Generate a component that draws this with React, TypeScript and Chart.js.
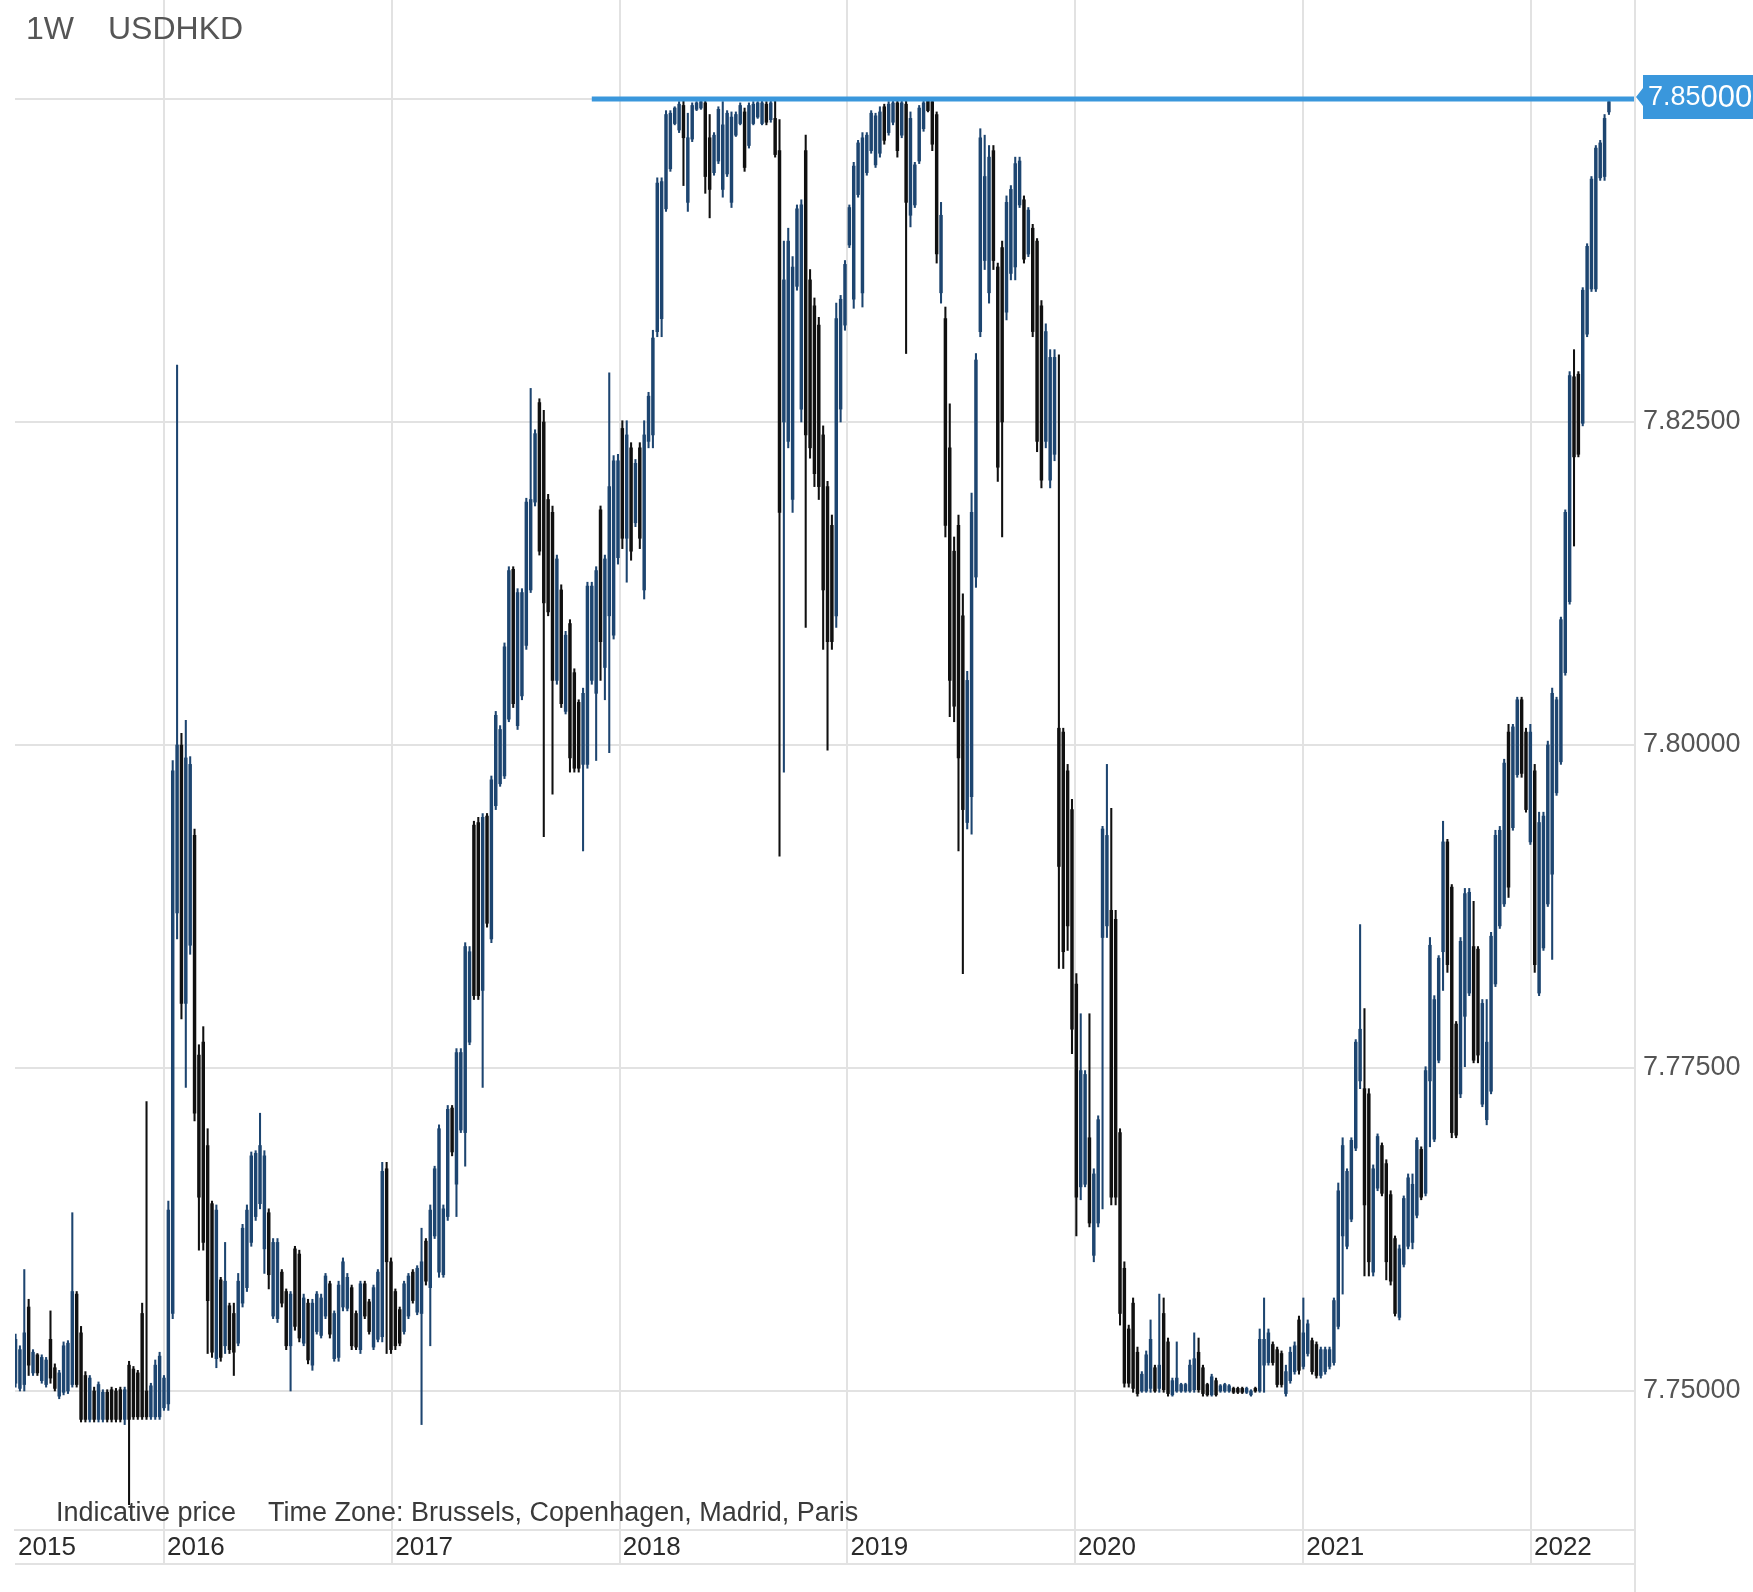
import React, { useEffect, useRef } from 'react';
import { Chart, registerables } from 'chart.js';

Chart.register(...registerables);

// ---------------- DATA ----------------
// Weekly USDHKD candles, first week 2015-05-08, one candle per week
const firstWeek = { y: 2015, m: 4, d: 8 };

const highs = [
  7.7544, 7.7535, 7.7594, 7.7571, 7.7532, 7.7529, 7.7528, 7.7526, 7.7562, 7.7521, // w0
  7.7516, 7.7538, 7.7539, 7.7638, 7.7577, 7.7550, 7.7515, 7.7512, 7.7503, 7.7507, // w10
  7.7501, 7.7501, 7.7503, 7.7502, 7.7503, 7.7503, 7.7523, 7.7519, 7.7516, 7.7568, // w20
  7.7724, 7.7506, 7.7524, 7.7530, 7.7512, 7.7647, 7.7988, 7.8294, 7.8009, 7.8019, // w30
  7.7991, 7.7935, 7.7768, 7.7782, 7.7703, 7.7647, 7.7644, 7.7588, 7.7615, 7.7568, // w40
  7.7568, 7.7591, 7.7629, 7.7644, 7.7685, 7.7686, 7.7715, 7.7686, 7.7641, 7.7618, // w50
  7.7618, 7.7594, 7.7579, 7.7577, 7.7612, 7.7609, 7.7575, 7.7571, 7.7571, 7.7577, // w60
  7.7575, 7.7591, 7.7585, 7.7562, 7.7585, 7.7603, 7.7591, 7.7582, 7.7562, 7.7585, // w70
  7.7585, 7.7571, 7.7582, 7.7594, 7.7677, 7.7677, 7.7603, 7.7579, 7.7565, 7.7585, // w80
  7.7591, 7.7594, 7.7597, 7.7626, 7.7618, 7.7644, 7.7674, 7.7706, 7.7644, 7.7721, // w90
  7.7721, 7.7765, 7.7765, 7.7847, 7.7844, 7.7941, 7.7944, 7.7947, 7.7947, 7.7976, // w100
  7.8026, 7.8015, 7.8079, 7.8138, 7.8138, 7.8121, 7.8121, 7.8191, 7.8276, 7.8244, // w110
  7.8268, 7.8259, 7.8194, 7.8185, 7.8147, 7.8124, 7.8088, 7.8097, 7.8059, 7.8035, // w120
  7.8044, 7.8126, 7.8126, 7.8138, 7.8185, 7.8147, 7.8288, 7.8224, 7.8225, 7.8251, // w130
  7.8251, 7.8234, 7.8221, 7.8234, 7.8251, 7.8273, 7.8321, 7.8439, 7.8439, 7.8491, // w140
  7.8491, 7.8494, 7.8498, 7.8499, 7.8489, 7.8497, 7.8498, 7.8499, 7.8499, 7.8488, // w150
  7.8474, 7.8494, 7.8498, 7.8491, 7.8490, 7.8490, 7.8497, 7.8493, 7.8497, 7.8498, // w160
  7.8498, 7.8499, 7.8498, 7.8499, 7.8499, 7.8484, 7.8390, 7.8400, 7.8378, 7.8418, // w170
  7.8422, 7.8472, 7.8368, 7.8346, 7.8331, 7.8247, 7.8204, 7.8178, 7.8342, 7.8348, // w180
  7.8375, 7.8418, 7.8451, 7.8468, 7.8474, 7.8474, 7.8491, 7.8489, 7.8494, 7.8496, // w190
  7.8498, 7.8499, 7.8499, 7.8499, 7.8499, 7.8490, 7.8451, 7.8495, 7.8499, 7.8500, // w200
  7.8500, 7.8490, 7.8420, 7.8339, 7.8264, 7.8161, 7.8178, 7.8117, 7.8057, 7.8195, // w210
  7.8303, 7.8477, 7.8472, 7.8464, 7.8464, 7.8373, 7.8390, 7.8425, 7.8433, 7.8455, // w220
  7.8455, 7.8425, 7.8416, 7.8403, 7.8392, 7.8344, 7.8326, 7.8306, 7.8306, 7.8302, // w230
  7.8013, 7.7985, 7.7958, 7.7823, 7.7792, 7.7748, 7.7792, 7.7672, 7.7713, 7.7937, // w240
  7.7985, 7.7951, 7.7872, 7.7703, 7.7600, 7.7551, 7.7572, 7.7534, 7.7515, 7.7531, // w250
  7.7555, 7.7520, 7.7575, 7.7572, 7.7541, 7.7510, 7.7538, 7.7506, 7.7506, 7.7524, // w260
  7.7545, 7.7541, 7.7520, 7.7506, 7.7513, 7.7510, 7.7505, 7.7506, 7.7505, 7.7503, // w270
  7.7503, 7.7503, 7.7503, 7.7501, 7.7503, 7.7548, 7.7572, 7.7548, 7.7538, 7.7534, // w280
  7.7531, 7.7520, 7.7534, 7.7538, 7.7558, 7.7572, 7.7555, 7.7541, 7.7538, 7.7534, // w290
  7.7534, 7.7534, 7.7572, 7.7661, 7.7696, 7.7672, 7.7696, 7.7772, 7.7861, 7.7796, // w300
  7.7734, 7.7675, 7.7699, 7.7692, 7.7679, 7.7655, 7.7620, 7.7613, 7.7651, 7.7668, // w310
  7.7668, 7.7696, 7.7689, 7.7751, 7.7851, 7.7806, 7.7837, 7.7941, 7.7927, 7.7892, // w320
  7.7786, 7.7851, 7.7889, 7.7889, 7.7879, 7.7844, 7.7803, 7.7803, 7.7855, 7.7934, // w330
  7.7937, 7.7989, 7.8016, 7.8016, 7.8037, 7.8037, 7.8013, 7.8016, 7.7985, 7.7948, // w340
  7.7948, 7.8003, 7.8044, 7.8037, 7.8099, 7.8182, 7.8289, 7.8306, 7.8289, 7.8354, // w350
  7.8388, 7.8440, 7.8464, 7.8468, 7.8488, 7.8500, // w360
];

const lows = [
  7.7503, 7.7500, 7.7500, 7.7512, 7.7512, 7.7512, 7.7506, 7.7503, 7.7506, 7.7500,
  7.7494, 7.7497, 7.7498, 7.7503, 7.7503, 7.7476, 7.7476, 7.7476, 7.7476, 7.7476,
  7.7476, 7.7476, 7.7476, 7.7476, 7.7476, 7.7474, 7.7412, 7.7478, 7.7478, 7.7478,
  7.7478, 7.7478, 7.7478, 7.7478, 7.7485, 7.7485, 7.7556, 7.7850, 7.7788, 7.7735,
  7.7838, 7.7709, 7.7609, 7.7609, 7.7529, 7.7526, 7.7518, 7.7523, 7.7529, 7.7529,
  7.7512, 7.7535, 7.7565, 7.7577, 7.7612, 7.7632, 7.7641, 7.7591, 7.7579, 7.7556,
  7.7553, 7.7565, 7.7532, 7.7500, 7.7547, 7.7538, 7.7535, 7.7521, 7.7516, 7.7544,
  7.7541, 7.7556, 7.7541, 7.7523, 7.7523, 7.7562, 7.7562, 7.7532, 7.7532, 7.7529,
  7.7556, 7.7544, 7.7532, 7.7538, 7.7538, 7.7529, 7.7529, 7.7532, 7.7535, 7.7544,
  7.7556, 7.7568, 7.7559, 7.7474, 7.7582, 7.7535, 7.7618, 7.7588, 7.7588, 7.7632,
  7.7682, 7.7635, 7.7700, 7.7674, 7.7768, 7.7803, 7.7803, 7.7735, 7.7859, 7.7847,
  7.7950, 7.7968, 7.7974, 7.8018, 7.8029, 7.8012, 7.8035, 7.8074, 7.8118, 7.8185,
  7.8147, 7.7929, 7.8100, 7.7962, 7.8047, 7.8029, 7.8024, 7.7979, 7.7979, 7.7979,
  7.7918, 7.7982, 7.8047, 7.7988, 7.8050, 7.8035, 7.7994, 7.8082, 7.8140, 7.8152,
  7.8126, 7.8143, 7.8169, 7.8152, 7.8113, 7.8230, 7.8230, 7.8316, 7.8316, 7.8413,
  7.8444, 7.8480, 7.8474, 7.8433, 7.8413, 7.8467, 7.8491, 7.8492, 7.8427, 7.8408,
  7.8441, 7.8450, 7.8424, 7.8440, 7.8416, 7.8471, 7.8480, 7.8444, 7.8462, 7.8480,
  7.8485, 7.8480, 7.8480, 7.8482, 7.8455, 7.7914, 7.7979, 7.8230, 7.8180, 7.8352,
  7.8250, 7.8091, 7.8222, 7.8200, 7.8190, 7.8074, 7.7996, 7.8074, 7.8091, 7.8250,
  7.8321, 7.8385, 7.8338, 7.8424, 7.8339, 7.8441, 7.8458, 7.8447, 7.8455, 7.8465,
  7.8472, 7.8480, 7.8455, 7.8470, 7.8303, 7.8401, 7.8416, 7.8450, 7.8475, 7.8490,
  7.8460, 7.8373, 7.8342, 7.8161, 7.8022, 7.8018, 7.7918, 7.7823, 7.7935, 7.7931,
  7.8122, 7.8316, 7.8368, 7.8342, 7.8368, 7.8204, 7.8161, 7.8329, 7.8360, 7.8360,
  7.8416, 7.8373, 7.8378, 7.8316, 7.8227, 7.8199, 7.8230, 7.8199, 7.8220, 7.7827,
  7.7827, 7.7841, 7.7761, 7.7620, 7.7648, 7.7658, 7.7627, 7.7600, 7.7627, 7.7641,
  7.7851, 7.7644, 7.7644, 7.7551, 7.7503, 7.7503, 7.7499, 7.7496, 7.7499, 7.7499,
  7.7499, 7.7499, 7.7499, 7.7499, 7.7496, 7.7496, 7.7499, 7.7499, 7.7499, 7.7499,
  7.7499, 7.7499, 7.7496, 7.7496, 7.7496, 7.7496, 7.7499, 7.7499, 7.7499, 7.7498,
  7.7498, 7.7498, 7.7498, 7.7496, 7.7499, 7.7499, 7.7499, 7.7520, 7.7520, 7.7503,
  7.7503, 7.7496, 7.7506, 7.7513, 7.7513, 7.7517, 7.7527, 7.7513, 7.7510, 7.7510,
  7.7513, 7.7517, 7.7520, 7.7548, 7.7575, 7.7610, 7.7631, 7.7686, 7.7734, 7.7589,
  7.7589, 7.7589, 7.7655, 7.7651, 7.7586, 7.7582, 7.7558, 7.7555, 7.7596, 7.7610,
  7.7610, 7.7634, 7.7648, 7.7651, 7.7689, 7.7693, 7.7754, 7.7810, 7.7824, 7.7696,
  7.7696, 7.7727, 7.7751, 7.7806, 7.7754, 7.7754, 7.7720, 7.7706, 7.7730, 7.7813,
  7.7858, 7.7875, 7.7882, 7.7934, 7.7975, 7.7975, 7.7948, 7.7923, 7.7824, 7.7806,
  7.7841, 7.7875, 7.7834, 7.7961, 7.7985, 7.8054, 7.8109, 7.8154, 7.8223, 7.8247,
  7.8316, 7.8351, 7.8351, 7.8437, 7.8437, 7.8488,
];

const opens = [
  7.7506, 7.7502, 7.7505, 7.7565, 7.7514, 7.7528, 7.7508, 7.7505, 7.7540, 7.7518,
  7.7496, 7.7499, 7.7500, 7.7505, 7.7575, 7.7545, 7.7512, 7.7478, 7.7500, 7.7478,
  7.7478, 7.7499, 7.7501, 7.7500, 7.7501, 7.7478, 7.7520, 7.7517, 7.7514, 7.7560,
  7.7500, 7.7480, 7.7480, 7.7480, 7.7487, 7.7490, 7.7560, 7.7870, 7.8000, 7.7800,
  7.7845, 7.7930, 7.7760, 7.7770, 7.7690, 7.7645, 7.7525, 7.7586, 7.7535, 7.7566,
  7.7560, 7.7537, 7.7568, 7.7580, 7.7615, 7.7635, 7.7645, 7.7610, 7.7638, 7.7558,
  7.7556, 7.7592, 7.7577, 7.7535, 7.7610, 7.7606, 7.7537, 7.7568, 7.7520, 7.7546,
  7.7543, 7.7558, 7.7583, 7.7525, 7.7526, 7.7565, 7.7564, 7.7580, 7.7560, 7.7532,
  7.7583, 7.7569, 7.7534, 7.7540, 7.7542, 7.7672, 7.7600, 7.7577, 7.7563, 7.7546,
  7.7558, 7.7592, 7.7561, 7.7560, 7.7616, 7.7580, 7.7620, 7.7592, 7.7590, 7.7635,
  7.7719, 7.7660, 7.7702, 7.7700, 7.7770, 7.7938, 7.7940, 7.7810, 7.7945, 7.7850,
  7.7953, 7.7970, 7.7976, 7.8020, 7.8136, 7.8015, 7.8038, 7.8077, 7.8120, 7.8188,
  7.8265, 7.8250, 7.8190, 7.8180, 7.8050, 7.8120, 7.8026, 7.8094, 7.8056, 7.8033,
  7.7985, 7.7985, 7.8050, 7.8040, 7.8182, 7.8060, 7.8100, 7.8085, 7.8145, 7.8245,
  7.8160, 7.8230, 7.8172, 7.8230, 7.8120, 7.8235, 7.8240, 7.8320, 7.8330, 7.8415,
  7.8446, 7.8481, 7.8476, 7.8495, 7.8420, 7.8469, 7.8492, 7.8493, 7.8497, 7.8470,
  7.8443, 7.8452, 7.8430, 7.8442, 7.8420, 7.8472, 7.8481, 7.8490, 7.8464, 7.8481,
  7.8486, 7.8481, 7.8496, 7.8484, 7.8485, 7.8460, 7.8250, 7.8235, 7.8190, 7.8355,
  7.8260, 7.8460, 7.8360, 7.8340, 7.8325, 7.8240, 7.8200, 7.8170, 7.8100, 7.8260,
  7.8325, 7.8387, 7.8345, 7.8426, 7.8350, 7.8443, 7.8460, 7.8449, 7.8458, 7.8494,
  7.8474, 7.8482, 7.8497, 7.8472, 7.8496, 7.8410, 7.8418, 7.8452, 7.8477, 7.8499,
  7.8498, 7.8488, 7.8350, 7.8330, 7.8230, 7.8150, 7.8170, 7.8100, 7.7940, 7.7960,
  7.8130, 7.8320, 7.8375, 7.8350, 7.8460, 7.8370, 7.8385, 7.8335, 7.8365, 7.8370,
  7.8418, 7.8422, 7.8380, 7.8400, 7.8390, 7.8340, 7.8235, 7.8205, 7.8225, 7.8013,
  7.8010, 7.7980, 7.7950, 7.7815, 7.7658, 7.7660, 7.7696, 7.7605, 7.7630, 7.7851,
  7.7860, 7.7872, 7.7865, 7.7700, 7.7595, 7.7548, 7.7568, 7.7530, 7.7500, 7.7500,
  7.7502, 7.7518, 7.7502, 7.7560, 7.7538, 7.7497, 7.7500, 7.7500, 7.7500, 7.7500,
  7.7501, 7.7530, 7.7518, 7.7505, 7.7497, 7.7508, 7.7500, 7.7500, 7.7500, 7.7502,
  7.7502, 7.7502, 7.7499, 7.7497, 7.7502, 7.7500, 7.7520, 7.7522, 7.7536, 7.7532,
  7.7529, 7.7498, 7.7508, 7.7515, 7.7555, 7.7519, 7.7529, 7.7539, 7.7536, 7.7512,
  7.7515, 7.7519, 7.7522, 7.7550, 7.7620, 7.7612, 7.7633, 7.7688, 7.7740, 7.7734,
  7.7730, 7.7592, 7.7657, 7.7690, 7.7676, 7.7652, 7.7618, 7.7557, 7.7598, 7.7612,
  7.7615, 7.7636, 7.7687, 7.7653, 7.7740, 7.7695, 7.7756, 7.7840, 7.7925, 7.7890,
  7.7784, 7.7730, 7.7790, 7.7808, 7.7844, 7.7842, 7.7722, 7.7710, 7.7732, 7.7815,
  7.7860, 7.7877, 7.8010, 7.7936, 7.7977, 7.8035, 7.8010, 7.7925, 7.7980, 7.7808,
  7.7843, 7.7877, 7.7900, 7.7963, 7.7987, 7.8056, 7.8111, 7.8285, 7.8287, 7.8249,
  7.8318, 7.8353, 7.8353, 7.8439, 7.8440, 7.8490,
];

const closes = [
  7.7540, 7.7532, 7.7545, 7.7520, 7.7530, 7.7514, 7.7526, 7.7524, 7.7510, 7.7502,
  7.7514, 7.7535, 7.7537, 7.7577, 7.7505, 7.7478, 7.7478, 7.7510, 7.7478, 7.7505,
  7.7499, 7.7478, 7.7478, 7.7478, 7.7478, 7.7501, 7.7478, 7.7480, 7.7480, 7.7480,
  7.7480, 7.7504, 7.7520, 7.7527, 7.7510, 7.7640, 7.7980, 7.8000, 7.7800, 7.7990,
  7.7985, 7.7715, 7.7650, 7.7615, 7.7570, 7.7530, 7.7640, 7.7526, 7.7585, 7.7532,
  7.7530, 7.7585, 7.7626, 7.7640, 7.7682, 7.7684, 7.7690, 7.7682, 7.7590, 7.7615,
  7.7615, 7.7568, 7.7535, 7.7575, 7.7550, 7.7541, 7.7572, 7.7524, 7.7568, 7.7575,
  7.7572, 7.7589, 7.7544, 7.7560, 7.7582, 7.7600, 7.7588, 7.7535, 7.7534, 7.7583,
  7.7558, 7.7546, 7.7580, 7.7592, 7.7670, 7.7600, 7.7532, 7.7535, 7.7537, 7.7583,
  7.7589, 7.7570, 7.7595, 7.7600, 7.7585, 7.7640, 7.7672, 7.7703, 7.7641, 7.7718,
  7.7685, 7.7762, 7.7762, 7.7844, 7.7840, 7.7806, 7.7806, 7.7944, 7.7862, 7.7973,
  7.8023, 7.8012, 7.8076, 7.8135, 7.8032, 7.8118, 7.8118, 7.8188, 7.8190, 7.8241,
  7.8150, 7.8110, 7.8103, 7.8050, 7.8144, 7.8032, 7.8085, 7.7990, 7.7982, 7.7982,
  7.8040, 7.8123, 7.8123, 7.8135, 7.8080, 7.8144, 7.8200, 7.8220, 7.8220, 7.8160,
  7.8240, 7.8150, 7.8218, 7.8160, 7.8240, 7.8270, 7.8315, 7.8435, 7.8436, 7.8488,
  7.8489, 7.8493, 7.8496, 7.8470, 7.8470, 7.8495, 7.8497, 7.8498, 7.8440, 7.8430,
  7.8472, 7.8492, 7.8480, 7.8489, 7.8486, 7.8488, 7.8495, 7.8447, 7.8495, 7.8496,
  7.8497, 7.8497, 7.8482, 7.8497, 7.8457, 7.8180, 7.8360, 7.8390, 7.8370, 7.8415,
  7.8418, 7.8240, 7.8230, 7.8210, 7.8200, 7.8120, 7.8080, 7.8080, 7.8330, 7.8345,
  7.8372, 7.8416, 7.8448, 7.8466, 7.8470, 7.8472, 7.8489, 7.8487, 7.8490, 7.8468,
  7.8496, 7.8497, 7.8460, 7.8497, 7.8420, 7.8485, 7.8449, 7.8493, 7.8497, 7.8491,
  7.8465, 7.8380, 7.8410, 7.8170, 7.8050, 7.8030, 7.7990, 7.7950, 7.8050, 7.8180,
  7.8298, 7.8470, 7.8440, 7.8455, 7.8375, 7.8215, 7.8250, 7.8420, 7.8430, 7.8450,
  7.8452, 7.8376, 7.8414, 7.8320, 7.8235, 7.8205, 7.8320, 7.8300, 7.8300, 7.7906,
  7.7840, 7.7860, 7.7780, 7.7650, 7.7748, 7.7745, 7.7630, 7.7668, 7.7710, 7.7935,
  7.7930, 7.7650, 7.7650, 7.7560, 7.7506, 7.7506, 7.7502, 7.7498, 7.7513, 7.7528,
  7.7540, 7.7500, 7.7520, 7.7501, 7.7498, 7.7508, 7.7510, 7.7505, 7.7505, 7.7520,
  7.7525, 7.7501, 7.7498, 7.7497, 7.7511, 7.7497, 7.7504, 7.7505, 7.7504, 7.7499,
  7.7499, 7.7499, 7.7502, 7.7500, 7.7500, 7.7540, 7.7540, 7.7545, 7.7522, 7.7505,
  7.7505, 7.7515, 7.7530, 7.7535, 7.7516, 7.7545, 7.7552, 7.7515, 7.7512, 7.7532,
  7.7532, 7.7532, 7.7570, 7.7655, 7.7690, 7.7670, 7.7694, 7.7770, 7.7780, 7.7644,
  7.7600, 7.7672, 7.7697, 7.7653, 7.7600, 7.7585, 7.7560, 7.7610, 7.7649, 7.7665,
  7.7660, 7.7694, 7.7650, 7.7748, 7.7845, 7.7803, 7.7835, 7.7925, 7.7830, 7.7700,
  7.7698, 7.7848, 7.7885, 7.7886, 7.7756, 7.7760, 7.7800, 7.7770, 7.7852, 7.7930,
  7.7934, 7.7986, 7.7890, 7.8014, 7.8035, 7.7978, 7.7950, 7.8010, 7.7830, 7.7940,
  7.7945, 7.8000, 7.8040, 7.8035, 7.8097, 7.8180, 7.8286, 7.8223, 7.8225, 7.8352,
  7.8386, 7.8438, 7.8462, 7.8466, 7.8485, 7.8498,
];

const xTickLabels = ['2015', '2016', '2017', '2018', '2019', '2020', '2021', '2022'];
const yTickValues = [7.75, 7.775, 7.8, 7.825, 7.85];
const levelValue = 7.85;
const levelLabelMain = '7.85';
const levelLabelPips = '000';
const titleInterval = '1W';
const titleSymbol = 'USDHKD';
const footNote1 = 'Indicative price';
const footNote2 = 'Time Zone: Brussels, Copenhagen, Madrid, Paris';

// ---------------- helpers ----------------
const DAY_MS = 86400000;
const EPOCH = Date.UTC(2015, 0, 1);
const toDay = (t: number) => (t - EPOCH) / DAY_MS;
const weekDays = highs.map((_, i) => toDay(Date.UTC(firstWeek.y, firstWeek.m, firstWeek.d + 7 * i)));
const yearDays = xTickLabels.slice(1).map((y) => toDay(Date.UTC(Number(y), 0, 1)));
const levelStartDay = toDay(Date.UTC(2017, 10, 17));

const X_MIN = 126.1;
const X_MAX = 2723.8;
const Y_MIN = 7.739241;
const Y_MAX = 7.857663;

const FONT = "'Liberation Sans', Arial, Helvetica, sans-serif";
const GRID = '#e2e2e2';
const UP = '#1d4570';
const DOWN = '#101010';
const LEVEL_BLUE = '#3a97dc';

export default function App() {
  const ref = useRef<HTMLCanvasElement | null>(null);

  useEffect(() => {
    if (!ref.current) return;
    const colors = highs.map((_, i) => (closes[i] >= opens[i] ? UP : DOWN));
    const wickData = highs.map((h, i) => ({ x: weekDays[i], y: [lows[i], h] }));
    const bodyData = highs.map((_, i) => ({ x: weekDays[i], y: [opens[i], closes[i]] }));

    const decor = {
      id: 'decor',
      afterDraw(chart: any) {
        const ctx = chart.ctx as CanvasRenderingContext2D;
        const xs = chart.scales.x;
        const ys = chart.scales.y;
        const area = chart.chartArea;
        ctx.save();
        // lower border of date strip and right border
        ctx.strokeStyle = GRID;
        ctx.lineWidth = 2;
        ctx.beginPath();
        ctx.moveTo(area.left, area.bottom + 34);
        ctx.lineTo(area.right, area.bottom + 34);
        ctx.moveTo(area.right, 0);
        ctx.lineTo(area.right, chart.height);
        ctx.stroke();

        // year labels
        ctx.fillStyle = '#2a2a2a';
        ctx.font = `26px ${FONT}`;
        ctx.textAlign = 'left';
        ctx.textBaseline = 'middle';
        ctx.fillText(xTickLabels[0], area.left + 3, area.bottom + 18);
        yearDays.forEach((d, i) => {
          ctx.fillText(xTickLabels[i + 1], xs.getPixelForValue(d) + 3, area.bottom + 18);
        });

        // footnote
        ctx.fillStyle = '#3a3a3a';
        ctx.font = `27px ${FONT}`;
        ctx.textBaseline = 'alphabetic';
        ctx.fillText(footNote1, 56, area.bottom - 9);
        ctx.fillText(footNote2, 268, area.bottom - 9);

        // title
        ctx.fillStyle = '#555';
        ctx.font = `32px ${FONT}`;
        ctx.fillText(titleInterval, 26, 39);
        ctx.fillText(titleSymbol, 108, 39);

        // level label box
        const yl = ys.getPixelForValue(levelValue) - 2;
        ctx.fillStyle = LEVEL_BLUE;
        ctx.beginPath();
        ctx.moveTo(area.right + 1, yl);
        ctx.lineTo(area.right + 8, yl - 9);
        ctx.lineTo(area.right + 8, yl - 22);
        ctx.lineTo(chart.width, yl - 22);
        ctx.lineTo(chart.width, yl + 22);
        ctx.lineTo(area.right + 8, yl + 22);
        ctx.lineTo(area.right + 8, yl + 9);
        ctx.closePath();
        ctx.fill();
        ctx.fillStyle = '#ffffff';
        ctx.textBaseline = 'middle';
        ctx.font = `27px ${FONT}`;
        ctx.fillText(levelLabelMain, area.right + 13, yl + 1);
        const w = ctx.measureText(levelLabelMain).width;
        ctx.font = `31px ${FONT}`;
        ctx.fillText(levelLabelPips, area.right + 13 + w, yl + 1);
        ctx.restore();
      },
    };

    const chart = new Chart(ref.current, {
      type: 'bar',
      data: {
        datasets: [
          {
            type: 'line',
            label: 'level',
            data: [
              { x: levelStartDay, y: levelValue },
              { x: X_MAX, y: levelValue },
            ],
            borderColor: LEVEL_BLUE,
            backgroundColor: LEVEL_BLUE,
            borderWidth: 5,
            pointRadius: 0,
            order: 0,
          } as any,
          {
            label: 'wick',
            data: wickData as any,
            backgroundColor: colors,
            barThickness: 1.4,
            grouped: false,
            order: 2,
          } as any,
          {
            label: 'body',
            data: bodyData as any,
            backgroundColor: colors,
            barThickness: 2.8,
            grouped: false,
            order: 1,
          } as any,
        ],
      },
      options: {
        animation: false,
        responsive: false,
        maintainAspectRatio: false,
        devicePixelRatio: 1,
        layout: { padding: { left: 15, top: 0, right: 0, bottom: 0 } },
        plugins: {
          legend: { display: false },
          tooltip: { enabled: false },
          title: { display: false },
        },
        scales: {
          x: {
            type: 'linear',
            min: X_MIN,
            max: X_MAX,
            offset: false,
            grid: { color: GRID, lineWidth: 2, tickLength: 34, drawTicks: true, offset: false },
            border: { display: true, color: GRID, width: 2 },
            ticks: { display: false },
            afterBuildTicks: (s: any) => {
              s.ticks = yearDays.map((v) => ({ value: v }));
            },
            afterFit: (s: any) => {
              s.height = 62;
              s.paddingLeft = 0;
              s.paddingRight = 0;
            },
          } as any,
          y: {
            type: 'linear',
            position: 'right',
            min: Y_MIN,
            max: Y_MAX,
            grid: { color: GRID, lineWidth: 2, drawTicks: false },
            border: { display: false },
            ticks: {
              padding: 8,
              color: '#555',
              font: { size: 27, family: FONT },
              callback: (v: any) => (Math.abs(v - levelValue) < 1e-9 ? '' : Number(v).toFixed(5)),
            },
            afterBuildTicks: (s: any) => {
              s.ticks = yTickValues.map((v) => ({ value: v }));
            },
            afterFit: (s: any) => {
              s.width = 118;
              s.paddingTop = 0;
              s.paddingBottom = 0;
            },
          } as any,
        },
      },
      plugins: [decor],
    });
    return () => chart.destroy();
  }, []);

  return (
    <div style={{ position: 'absolute', left: 0, top: 0, width: 1753, height: 1592, background: '#ffffff', overflow: 'hidden' }}>
      <canvas ref={ref} width={1753} height={1592} style={{ display: 'block', width: 1753, height: 1592 }} />
    </div>
  );
}
